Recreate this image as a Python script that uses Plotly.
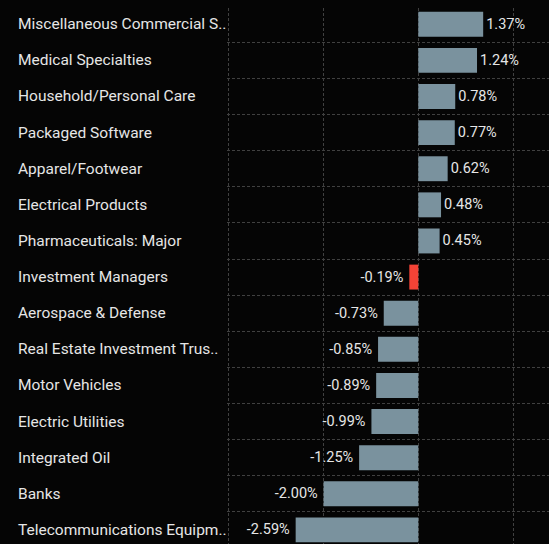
import plotly.graph_objects as go

categories = [
    "Miscellaneous Commercial S..",
    "Medical Specialties",
    "Household/Personal Care",
    "Packaged Software",
    "Apparel/Footwear",
    "Electrical Products",
    "Pharmaceuticals: Major",
    "Investment Managers",
    "Aerospace & Defense",
    "Real Estate Investment Trus..",
    "Motor Vehicles",
    "Electric Utilities",
    "Integrated Oil",
    "Banks",
    "Telecommunications Equipm..",
]
values = [1.37, 1.24, 0.78, 0.77, 0.62, 0.48, 0.45, -0.19, -0.73, -0.85, -0.89, -0.99, -1.25, -2.00, -2.59]
highlight = ["Investment Managers"]

BAR = "#7a929e"
RED = "#f44336"
BG = "#050505"
colors = [RED if c in highlight else BAR for c in categories]
FONT = "Roboto"

labels = [f"{v:.2f}%" + ("\u2009" if v < 0 else "") for v in values]

fig = go.Figure(go.Bar(
    x=values,
    y=categories,
    orientation="h",
    marker=dict(color=colors, line=dict(width=0)),
    text=labels,
    textposition="outside",
    textfont=dict(color="#e6e6e6", size=14.5, family=FONT),
    cliponaxis=False,
    constraintext="none",
    width=0.69,
    hoverinfo="skip",
))

for c in categories:
    fig.add_annotation(
        x=-0.655, xref="paper", y=c, yref="y",
        text=c, showarrow=False, xanchor="left", yanchor="middle",
        font=dict(color="#e6e6e6", size=15.5, family=FONT),
    )

fig.update_layout(
    width=549, height=544,
    margin=dict(l=227, r=0, t=8, b=0),
    paper_bgcolor=BG,
    plot_bgcolor=BG,
    showlegend=False,
    xaxis=dict(
        range=[-4.04, 2.76],
        dtick=2, tick0=0,
        showticklabels=False,
        showgrid=True, gridcolor="#404040", griddash="3px,2px", gridwidth=1,
        zeroline=False, showline=False,
    ),
    yaxis=dict(
        type="category",
        categoryorder="array", categoryarray=categories,
        range=[14.39, -0.45],
        showticklabels=False,
        showgrid=True, gridcolor="#404040", griddash="3px,2px", gridwidth=1,
        tickson="boundaries", ticks="",
        zeroline=False, showline=False,
    ),
)

fig.write_html(
    "out.html",
    config={"displayModeBar": False},
    post_script="document.body.style.margin='0';document.body.style.background='%s';document.body.style.overflow='hidden';" % BG,
)
